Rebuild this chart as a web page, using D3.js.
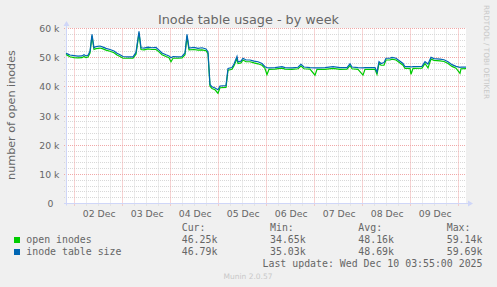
<!DOCTYPE html>
<html>
<head>
<meta charset="utf-8">
<script src="https://cdn.jsdelivr.net/npm/d3@7"></script>
<style>
  html, body { margin: 0; padding: 0; background: #f0f0f0; }
  svg { display: block; }
  text { font-family: "DejaVu Sans", sans-serif; fill: #666; }
  .mono { font-family: "DejaVu Sans Mono", monospace; white-space: pre; }
</style>
</head>
<body>
<div id="chart"></div>
<script>
// hours after the start of the graph (Dec 1 19:55)
const hours = [0, 1, 2, 4, 6, 8, 9, 10, 11, 12, 13, 14, 15, 17, 18.5, 20, 22, 24, 25.5, 27, 28.5, 31, 33.5,
  35, 36.5, 37.5, 39, 41, 43, 45, 46.5, 48, 50, 51.5, 52.5, 53.5, 56, 58, 59.5, 60.5, 61.5, 64, 66, 68, 70,
  71, 72, 73, 74.5, 76, 77, 80, 81, 83, 84, 85.5, 86, 87.5, 88.5, 90, 92, 94, 96, 98, 99.5, 100.5, 101.5,
  104.5, 108, 109.5, 113, 116, 117.5, 119, 122, 124.5, 125.5, 129.5, 133.5, 137, 140.5, 142, 143, 146,
  148.5, 149.5, 154.5, 155.5, 156.5, 157.5, 159, 160, 162, 163, 165, 167, 168.5, 169.5, 172, 172.5, 173.5,
  178, 179.5, 181, 182.5, 184, 187, 189, 191, 193, 195, 197, 197.5, 200];

const openInodes = [51.1, 50.7, 50.3, 50.0, 49.9, 50.0, 50.4, 50.0, 50.2, 51.6, 57.4, 52.8, 53.1, 53.3, 53.0,
  52.6, 52.2, 51.7, 50.9, 50.4, 49.8, 49.8, 49.8,
  51.2, 58.4, 52.8, 52.7, 53.0, 52.8, 52.8, 52.0, 51.0, 50.4, 50.0, 48.6, 49.8, 49.8, 49.9, 51.0, 57.3, 52.7,
  52.8, 52.6, 52.7, 52.4,
  51.4, 40.2, 39.4, 39.0, 37.8, 39.7, 39.8, 45.7, 46.0, 47.2, 49.6, 48.0, 48.2, 49.2, 48.6, 48.6, 48.2,
  47.9, 47.4, 46.3, 44.2, 46.0,
  46.1, 46.4, 46.1, 46.0, 46.2, 47.1, 46.2, 46.1, 44.0, 46.0, 46.0, 46.3, 46.0, 46.1, 47.3, 46.2, 46.0,
  44.0, 46.0, 46.0, 44.3, 48.0, 47.4, 47.4, 49.2, 49.2, 49.5, 49.2, 48.2, 47.4, 46.3, 46.3, 44.3, 46.3,
  46.4, 48.0, 46.5, 49.5, 49.1, 48.9, 48.7, 48.0, 47.0, 46.4, 44.6, 46.2, 46.25];

const tableSize = [51.5, 51.2, 50.9, 50.7, 50.5, 50.6, 51.0, 50.6, 50.8, 52.2, 58.0, 53.4, 53.8, 54.0, 53.6,
  53.2, 52.8, 52.3, 51.5, 51.0, 50.4, 50.3, 50.3,
  51.8, 59.0, 53.4, 53.3, 53.6, 53.4, 53.5, 52.6, 51.6, 51.0, 50.6, 50.0, 50.4, 50.3, 50.4, 51.6, 58.0, 53.3,
  53.5, 53.2, 53.4, 53.0,
  52.0, 40.8, 40.0, 39.6, 39.0, 40.3, 40.4, 46.3, 46.6, 47.8, 50.4, 48.6, 48.8, 49.8, 49.2, 49.2, 48.8,
  48.6, 48.0, 46.9, 46.6, 46.5,
  46.6, 46.9, 46.6, 46.5, 46.7, 47.7, 46.8, 46.6, 46.5, 46.5, 46.6, 46.9, 46.6, 46.6, 47.9, 46.8, 46.6,
  46.5, 46.6, 46.6, 45.0, 48.6, 48.0, 48.3, 49.8, 49.8, 50.1, 49.8, 48.8, 48.0, 46.9, 46.9, 46.8, 46.9,
  47.0, 48.6, 47.8, 50.1, 49.7, 49.5, 49.3, 48.6, 47.6, 47.0, 46.7, 46.8, 46.79];

const dayLabels = ["02 Dec", "03 Dec", "04 Dec", "05 Dec", "06 Dec", "07 Dec", "08 Dec", "09 Dec"];
const yTicks = [0, 10, 20, 30, 40, 50, 60];
const legendNames = ["open inodes", "inode table size"];
const legendColors = ["#00cc00", "#0066b3"];
const curValues = ["46.25k", "46.79k"];
const minValues = ["34.65k", "35.03k"];
const avgValues = ["48.16k", "48.69k"];
const maxValues = ["59.14k", "59.69k"];

const width = 497, height = 287;
const plot = { left: 66, right: 466, top: 28.5, bottom: 203.5 };

const start = Date.UTC(2025, 11, 1, 19, 55);
const end = start + 200 * 3600e3;

const svg = d3.select("#chart").append("svg")
  .attr("width", width)
  .attr("height", height);

svg.append("rect").attr("width", width).attr("height", height).attr("fill", "#f0f0f0");
svg.append("rect")
  .attr("x", plot.left).attr("y", plot.top - 0.5)
  .attr("width", plot.right - plot.left).attr("height", plot.bottom - plot.top)
  .attr("fill", "#fff");

const x = d3.scaleUtc().domain([start, end]).range([plot.left, plot.right]);
const y = d3.scaleLinear().domain([0, 60]).range([plot.bottom, plot.top]);

// grid
const grid = svg.append("g");
const minorY = d3.range(0, 61, 2).filter(v => v % 10 !== 0);
grid.selectAll(".hminor").data(minorY).enter().append("line")
  .attr("x1", plot.left - 2).attr("x2", plot.right)
  .attr("y1", d => Math.floor(y(d)) + 0.5).attr("y2", d => Math.floor(y(d)) + 0.5)
  .attr("stroke", "#d8d8d8").attr("stroke-dasharray", "1,1");

const sixHours = d3.utcHour.every(6).range(new Date(start), new Date(end));
grid.selectAll(".vminor").data(sixHours.filter(d => d.getUTCHours() !== 0)).enter().append("line")
  .attr("x1", d => Math.round(x(d)) + 0.5).attr("x2", d => Math.round(x(d)) + 0.5)
  .attr("y1", plot.top).attr("y2", plot.bottom + 2)
  .attr("stroke", "#d8d8d8").attr("stroke-dasharray", "1,1");

grid.selectAll(".hmajor").data(yTicks).enter().append("line")
  .attr("x1", plot.left - 2).attr("x2", plot.right)
  .attr("y1", d => Math.floor(y(d)) + 0.5).attr("y2", d => Math.floor(y(d)) + 0.5)
  .attr("stroke", "#f0a8a8").attr("stroke-dasharray", "1,1");

const days = d3.utcDay.range(new Date(start), new Date(end));
grid.selectAll(".vmajor").data(days).enter().append("line")
  .attr("x1", d => Math.round(x(d)) + 0.5).attr("x2", d => Math.round(x(d)) + 0.5)
  .attr("y1", plot.top).attr("y2", plot.bottom + 2)
  .attr("stroke", "#f0a8a8").attr("stroke-dasharray", "1,1");

// axes
const axisColor = "#cfd6f8";
svg.append("line").attr("x1", plot.left - 2).attr("x2", plot.right + 2)
  .attr("y1", 203.5).attr("y2", 203.5).attr("stroke", axisColor);
svg.append("line").attr("x1", 66.5).attr("x2", 66.5)
  .attr("y1", plot.bottom + 2).attr("y2", plot.top - 4).attr("stroke", axisColor);
svg.append("path").attr("d", "M468,200.5L473,203.5L468,206.5Z").attr("fill", axisColor);
svg.append("path").attr("d", "M63.5,26L66.5,21L69.5,26Z").attr("fill", axisColor);

// y tick labels
svg.selectAll(".ylab").data(yTicks).enter().append("text")
  .attr("x", d => d === 0 ? 53.5 : 59.5)
  .attr("y", d => Math.floor(y(d)) + 4)
  .attr("text-anchor", "end")
  .style("font-size", "9.3px")
  .text(d => d === 0 ? "0" : d + " k");

// x day labels at midday
svg.selectAll(".xlab").data(days.slice(0, dayLabels.length)).enter().append("text")
  .attr("x", d => x(d3.utcHour.offset(d, 12)) + 1)
  .attr("y", 216.5)
  .attr("text-anchor", "middle")
  .style("font-size", "9.3px")
  .text((d, i) => dayLabels[i]);

// series
const line = vals => d3.line()
  .x((d, i) => x(start + hours[i] * 3600e3))
  .y(d => y(d))(vals);

svg.append("path").attr("d", line(openInodes))
  .attr("fill", "none").attr("stroke", legendColors[0]).attr("stroke-width", 1.2);
svg.append("path").attr("d", line(tableSize))
  .attr("fill", "none").attr("stroke", legendColors[1]).attr("stroke-width", 1.2);

// title and labels
svg.append("text").attr("x", 248.5).attr("y", 24).attr("text-anchor", "middle")
  .style("font-size", "12.8px").text("Inode table usage - by week");

svg.append("text").attr("transform", "translate(15,115) rotate(-90)")
  .attr("text-anchor", "middle").style("font-size", "11.2px")
  .text("number of open inodes");

svg.append("text").attr("transform", "translate(484,5) rotate(90)")
  .style("font-size", "7.3px").style("fill", "#c8c8c8")
  .text("RRDTOOL / TOBI OETIKER");

// legend
const cols = [181.7, 270, 358.3, 446.7];
["Cur:", "Min:", "Avg:", "Max:"].forEach((h, j) => {
  svg.append("text").attr("class", "mono").attr("x", cols[j]).attr("y", 231)
    .style("font-size", "9.9px").text(h);
});
legendNames.forEach((name, i) => {
  const by = 243 + i * 12;
  svg.append("rect").attr("x", 14).attr("y", by - 6).attr("width", 6).attr("height", 6)
    .attr("fill", legendColors[i]);
  svg.append("text").attr("class", "mono").attr("x", 26.3).attr("y", by)
    .style("font-size", "9.9px").text(name);
  [curValues[i], minValues[i], avgValues[i], maxValues[i]].forEach((v, j) => {
    svg.append("text").attr("class", "mono").attr("x", cols[j]).attr("y", by)
      .style("font-size", "9.9px").text(v);
  });
});
svg.append("text").attr("class", "mono").attr("x", 482.5).attr("y", 267)
  .attr("text-anchor", "end").style("font-size", "9.9px")
  .text("Last update: Wed Dec 10 03:55:00 2025");

svg.append("text").attr("x", 248).attr("y", 279).attr("text-anchor", "middle")
  .style("font-size", "7.5px").style("fill", "#c8c8c8").text("Munin 2.0.57");
</script>
</body>
</html>
